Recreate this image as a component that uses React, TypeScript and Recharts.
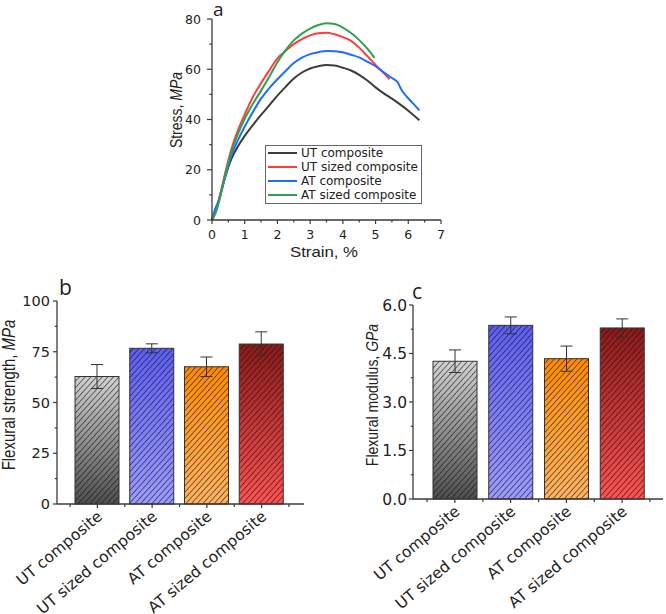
import React from "react";
import {
  LineChart,
  Line,
  XAxis,
  YAxis,
  Legend,
  BarChart,
  Bar,
  ErrorBar,
} from "recharts";

// ---- panel a: stress-strain curves (strain %, stress MPa) ----
const strainTicks = [0, 0.5, 1, 1.5, 2, 2.5, 3, 3.5, 4, 4.5, 5, 5.5, 6, 6.5, 7];
const stressTicks = [0, 10, 20, 30, 40, 50, 60, 70, 80];

const utComposite: [number, number][] = [
  [0, 0], [0.1, 3], [0.2, 7.5], [0.4, 17], [0.6, 24.5], [0.8, 29.5], [1.0, 33.5],
  [1.25, 37.8], [1.5, 41.8], [1.75, 45.6], [2.0, 49.5], [2.25, 53], [2.5, 56.3],
  [2.75, 58.7], [3.0, 60.3], [3.25, 61.2], [3.5, 61.7], [3.75, 61.5], [4.0, 60.6],
  [4.25, 59.5], [4.5, 57.8], [4.75, 55.5], [5.0, 52.8], [5.25, 50.4], [5.5, 48.3],
  [5.75, 46], [6.0, 43.5], [6.34, 39.7],
];
const utSizedComposite: [number, number][] = [
  [0, 0], [0.1, 3], [0.2, 7.5], [0.4, 18.5], [0.6, 28.5], [0.8, 36], [1.0, 42],
  [1.25, 49], [1.5, 54.5], [1.75, 59.5], [2.0, 64.3], [2.25, 67.3], [2.5, 70],
  [2.75, 72], [3.0, 73.5], [3.25, 74.3], [3.5, 74.5], [3.75, 73.9], [4.0, 72.8],
  [4.25, 71.3], [4.5, 68.6], [4.75, 65.2], [5.0, 61.7], [5.25, 58.5], [5.43, 56],
];
const atComposite: [number, number][] = [
  [0, 0], [0.1, 4.5], [0.2, 7.5], [0.4, 17], [0.6, 26], [0.8, 32], [1.0, 37.2],
  [1.25, 43], [1.5, 48.3], [1.75, 52.5], [2.0, 56], [2.25, 59.3], [2.5, 62.5],
  [2.75, 64.6], [3.0, 66], [3.25, 66.8], [3.5, 67.3], [3.75, 67.2], [4.0, 66.8],
  [4.25, 65.8], [4.5, 64.7], [4.75, 63], [5.0, 61.2], [5.25, 58.8], [5.5, 56.5],
  [5.68, 54.7], [5.78, 52], [5.94, 49.3], [6.1, 47], [6.34, 43.7],
];
const atSizedComposite: [number, number][] = [
  [0, 0], [0.1, 2.5], [0.2, 6.5], [0.4, 17.5], [0.6, 27.5], [0.8, 34.5], [1.0, 40.3],
  [1.25, 46.3], [1.5, 51.5], [1.75, 57], [2.0, 62.8], [2.25, 67.6], [2.5, 71.5],
  [2.75, 74.2], [3.0, 76.2], [3.25, 77.6], [3.5, 78.3], [3.75, 78], [4.0, 76.6],
  [4.25, 74.4], [4.5, 71.6], [4.75, 68.2], [4.97, 64.5],
];

const curves = [
  { name: "UT composite", color: "#3c3c3c", points: utComposite },
  { name: "UT sized composite", color: "#ff3b3b", points: utSizedComposite },
  { name: "AT composite", color: "#1f6cff", points: atComposite },
  { name: "AT sized composite", color: "#2ea24f", points: atSizedComposite },
];

// ---- panels b and c: flexural properties ----
const categories = ["UT composite", "UT sized composite", "AT composite", "AT sized composite"];
const strengthMean = [62.8, 76.7, 67.6, 78.8];
const strengthErr = [5.9, 2.2, 4.8, 6.0];
const modulusMean = [4.26, 5.37, 4.34, 5.29];
const modulusErr = [0.35, 0.26, 0.39, 0.28];
const strengthTicks = [0, 12.5, 25, 37.5, 50, 62.5, 75, 87.5, 100];
const modulusTicks = [0, 0.75, 1.5, 2.25, 3, 3.75, 4.5, 5.25, 6];

const barTop = ["#d2d2d2", "#5c5cf0", "#ff8a00", "#8a1a1a"];
const barBottom = ["#4e4e4e", "#9c9cff", "#ffb463", "#ff5252"];

const AXIS = "#3a3a3a";
const TICK_FONT = "DejaVu Sans";

const yTick =
  (ts: number, tm: number, isMajor: (v: number) => boolean, fmt: (v: number) => string, fs: number) =>
  (p: any) => {
    const ax = p.x + ts + tm;
    const v = p.payload.value;
    const major = isMajor(v);
    return (
      <g>
        <line x1={ax} x2={ax - (major ? ts : ts * 0.55)} y1={p.y} y2={p.y} stroke={AXIS} strokeWidth={1.2} />
        {major && (
          <text x={p.x} y={p.y} dy="0.36em" textAnchor="end" fontSize={fs} fill="#222" fontFamily={TICK_FONT}>
            {fmt(v)}
          </text>
        )}
      </g>
    );
  };

const xNumTick = (ts: number, tm: number, fs: number) => (p: any) => {
  const ay = p.y - ts - tm;
  const v = p.payload.value;
  const major = Number.isInteger(v);
  return (
    <g>
      <line x1={p.x} x2={p.x} y1={ay} y2={ay + (major ? ts : ts * 0.6)} stroke={AXIS} strokeWidth={1.2} />
      {major && (
        <text x={p.x} y={p.y} dy="0.72em" textAnchor="middle" fontSize={fs} fill="#222" fontFamily={TICK_FONT}>
          {v}
        </text>
      )}
    </g>
  );
};

const catTick = (half: number, fs: number) => (p: any) => {
  const ay = p.y - 4;
  const lx = p.x + 6;
  const ly = ay + 14;
  return (
    <g>
      <line x1={p.x} x2={p.x} y1={ay} y2={ay + 4} stroke={AXIS} strokeWidth={1.2} />
      <line x1={p.x - half} x2={p.x - half} y1={ay} y2={ay + 3} stroke={AXIS} strokeWidth={1.2} />
      {p.index === categories.length - 1 && (
        <line x1={p.x + half} x2={p.x + half} y1={ay} y2={ay + 3} stroke={AXIS} strokeWidth={1.2} />
      )}
      <text
        x={lx}
        y={ly}
        textAnchor="end"
        fontSize={fs}
        fill="#222"
        fontFamily={TICK_FONT}
        transform={`rotate(-40, ${lx}, ${ly})`}
      >
        {p.payload.value}
      </text>
    </g>
  );
};

const hatchedBar = (prefix: string) => (props: any) => {
  const { x, y, width, height, index } = props;
  return (
    <g>
      <rect x={x} y={y} width={width} height={height} fill={`url(#${prefix}-g${index})`} />
      <rect x={x} y={y} width={width} height={height} fill={`url(#${prefix}-hatch)`} />
      <rect x={x} y={y} width={width} height={height} fill="none" stroke="#333" strokeWidth={1} />
    </g>
  );
};

const BarDefs = ({ prefix }: { prefix: string }) => (
  <defs>
    <pattern id={`${prefix}-hatch`} width={4.2} height={4.2} patternUnits="userSpaceOnUse" patternTransform="rotate(42)">
      <line x1={0} y1={0} x2={0} y2={4.2} stroke="#111" strokeWidth={1.1} />
    </pattern>
    {categories.map((c, i) => (
      <linearGradient key={c} id={`${prefix}-g${i}`} x1="0" y1="0" x2="0" y2="1">
        <stop offset="0%" stopColor={barTop[i]} />
        <stop offset="100%" stopColor={barBottom[i]} />
      </linearGradient>
    ))}
  </defs>
);

const LegendBox = () => (
  <div style={{ border: "1px solid #666", background: "#fff", width: 155, paddingBottom: 1 }}>
    {curves.map((c) => (
      <div key={c.name} style={{ display: "flex", alignItems: "center", height: 14 }}>
        <div style={{ width: 29, height: 2, background: c.color, marginLeft: 2, marginRight: 4 }} />
        <span style={{ fontFamily: TICK_FONT, fontSize: 12, color: "#222", whiteSpace: "nowrap" }}>{c.name}</span>
      </div>
    ))}
  </div>
);

function StressStrain() {
  return (
    <LineChart width={300} height={250} margin={{ top: 19, right: 9, left: 22, bottom: 0 }}>
      <XAxis
        type="number"
        dataKey="x"
        domain={[0, 7]}
        ticks={strainTicks}
        interval={0}
        height={30}
        tickSize={4}
        tickMargin={6}
        tickLine={false}
        stroke={AXIS}
        strokeWidth={1.3}
        tick={xNumTick(4, 6, 12.5)}
      />
      <XAxis xAxisId="top" orientation="top" type="number" domain={[0, 7]} height={0} tick={false} tickLine={false} stroke={AXIS} strokeWidth={1.3} />
      <YAxis
        type="number"
        domain={[0, 80]}
        ticks={stressTicks}
        interval={0}
        width={40}
        tickSize={5}
        tickMargin={6}
        tickLine={false}
        stroke={AXIS}
        strokeWidth={1.3}
        tick={yTick(5, 6, (v) => v % 20 === 0, (v) => String(v), 12.5)}
      />
      <YAxis yAxisId="right" orientation="right" domain={[0, 80]} width={0} tick={false} tickLine={false} stroke={AXIS} strokeWidth={1.3} />
      <Legend
        layout="vertical"
        align="center"
        verticalAlign="middle"
        wrapperStyle={{ left: 115, top: 145, width: 157 }}
        content={() => <LegendBox />}
      />
      {curves.map((c) => (
        <Line
          key={c.name}
          name={c.name}
          data={c.points.map(([x, y]) => ({ x, y }))}
          dataKey="y"
          type="monotone"
          stroke={c.color}
          strokeWidth={2}
          dot={false}
          isAnimationActive={false}
        />
      ))}
    </LineChart>
  );
}

function FlexuralChart(props: {
  prefix: string;
  means: number[];
  errs: number[];
  ticks: number[];
  domain: [number, number];
  isMajor: (v: number) => boolean;
  fmt: (v: number) => string;
  width: number;
  height: number;
  margin: { top: number; right: number; left: number; bottom: number };
  yWidth: number;
  xHeight: number;
  padding: { left: number; right: number };
  barSize: number;
  half: number;
  fs: number;
  tickGap: number;
}) {
  const data = categories.map((name, i) => ({ name, value: props.means[i], err: props.errs[i] }));
  return (
    <BarChart width={props.width} height={props.height} data={data} margin={props.margin} barSize={props.barSize}>
      <BarDefs prefix={props.prefix} />
      <XAxis
        dataKey="name"
        interval={0}
        height={props.xHeight}
        padding={props.padding}
        tickSize={4}
        tickMargin={0}
        tickLine={false}
        stroke={AXIS}
        strokeWidth={1.3}
        tick={catTick(props.half, 15.5)}
      />
      <XAxis xAxisId="top" orientation="top" dataKey="name" height={0} tick={false} tickLine={false} stroke={AXIS} strokeWidth={1.3} />
      <YAxis
        type="number"
        domain={props.domain}
        ticks={props.ticks}
        interval={0}
        width={props.yWidth}
        tickSize={4}
        tickMargin={props.tickGap}
        tickLine={false}
        stroke={AXIS}
        strokeWidth={1.3}
        tick={yTick(4, props.tickGap, props.isMajor, props.fmt, props.fs)}
      />
      <YAxis yAxisId="right" orientation="right" domain={props.domain} width={0} tick={false} tickLine={false} stroke={AXIS} strokeWidth={1.3} />
      <Bar dataKey="value" shape={hatchedBar(props.prefix)} isAnimationActive={false}>
        <ErrorBar dataKey="err" width={6} stroke="#333" strokeWidth={1} />
      </Bar>
    </BarChart>
  );
}

const stretch = (cx: number) => `translate(${cx},0) scale(1.2,1) translate(${-cx},0)`;

export default function App() {
  return (
    <div
      style={{
        position: "absolute",
        left: 0,
        top: 0,
        width: 666,
        height: 614,
        background: "#fff",
        overflow: "hidden",
        fontFamily: "Liberation Sans, Arial, sans-serif",
      }}
    >
      <div style={{ position: "absolute", left: 150, top: 0 }}>
        <StressStrain />
      </div>
      <div style={{ position: "absolute", left: 0, top: 270 }}>
        <FlexuralChart
          prefix="fs"
          means={strengthMean}
          errs={strengthErr}
          ticks={strengthTicks}
          domain={[0, 100]}
          isMajor={(v) => v % 25 === 0}
          fmt={(v) => String(v)}
          width={320}
          height={344}
          margin={{ top: 31, right: 16, left: 17, bottom: 0 }}
          yWidth={40}
          xHeight={110}
          padding={{ left: 13, right: 15 }}
          barSize={44}
          half={27.3}
          fs={14.5}
          tickGap={3}
        />
      </div>
      <div style={{ position: "absolute", left: 340, top: 270 }}>
        <FlexuralChart
          prefix="fm"
          means={modulusMean}
          errs={modulusErr}
          ticks={modulusTicks}
          domain={[0, 6]}
          isMajor={(v) => Math.abs(v / 1.5 - Math.round(v / 1.5)) < 1e-6}
          fmt={(v) => v.toFixed(1)}
          width={326}
          height={344}
          margin={{ top: 35, right: 3, left: 28, bottom: 0 }}
          yWidth={45}
          xHeight={115}
          padding={{ left: 14, right: 13 }}
          barSize={44}
          half={27.8}
          fs={15.5}
          tickGap={2}
        />
      </div>
      <svg
        width={666}
        height={614}
        style={{ position: "absolute", left: 0, top: 0, pointerEvents: "none" }}
        fontFamily="Liberation Sans, Arial, sans-serif"
        fill="#222"
      >
        <text x={213} y={16} fontSize={19} fontFamily="Open Sans">a</text>
        <text x={59} y={295} fontSize={21} fontFamily="Open Sans">b</text>
        <text x={412} y={299} fontSize={21} fontFamily="Open Sans">c</text>
        <text x={324} y={257} fontSize={14} textAnchor="middle" transform={stretch(324)}>
          Strain, %
        </text>
        <text transform="translate(182,110) scale(1.2,1) rotate(-90)" fontSize={14} textAnchor="middle">
          Stress, <tspan fontStyle="italic">MPa</tspan>
        </text>
        <text transform="translate(15,395) scale(1.2,1) rotate(-90)" fontSize={15} textAnchor="middle">
          Flexural strength, <tspan fontStyle="italic">MPa</tspan>
        </text>
        <text transform="translate(378,395) scale(1.2,1) rotate(-90)" fontSize={14} textAnchor="middle">
          Flexural modulus, <tspan fontStyle="italic">GPa</tspan>
        </text>
      </svg>
    </div>
  );
}
